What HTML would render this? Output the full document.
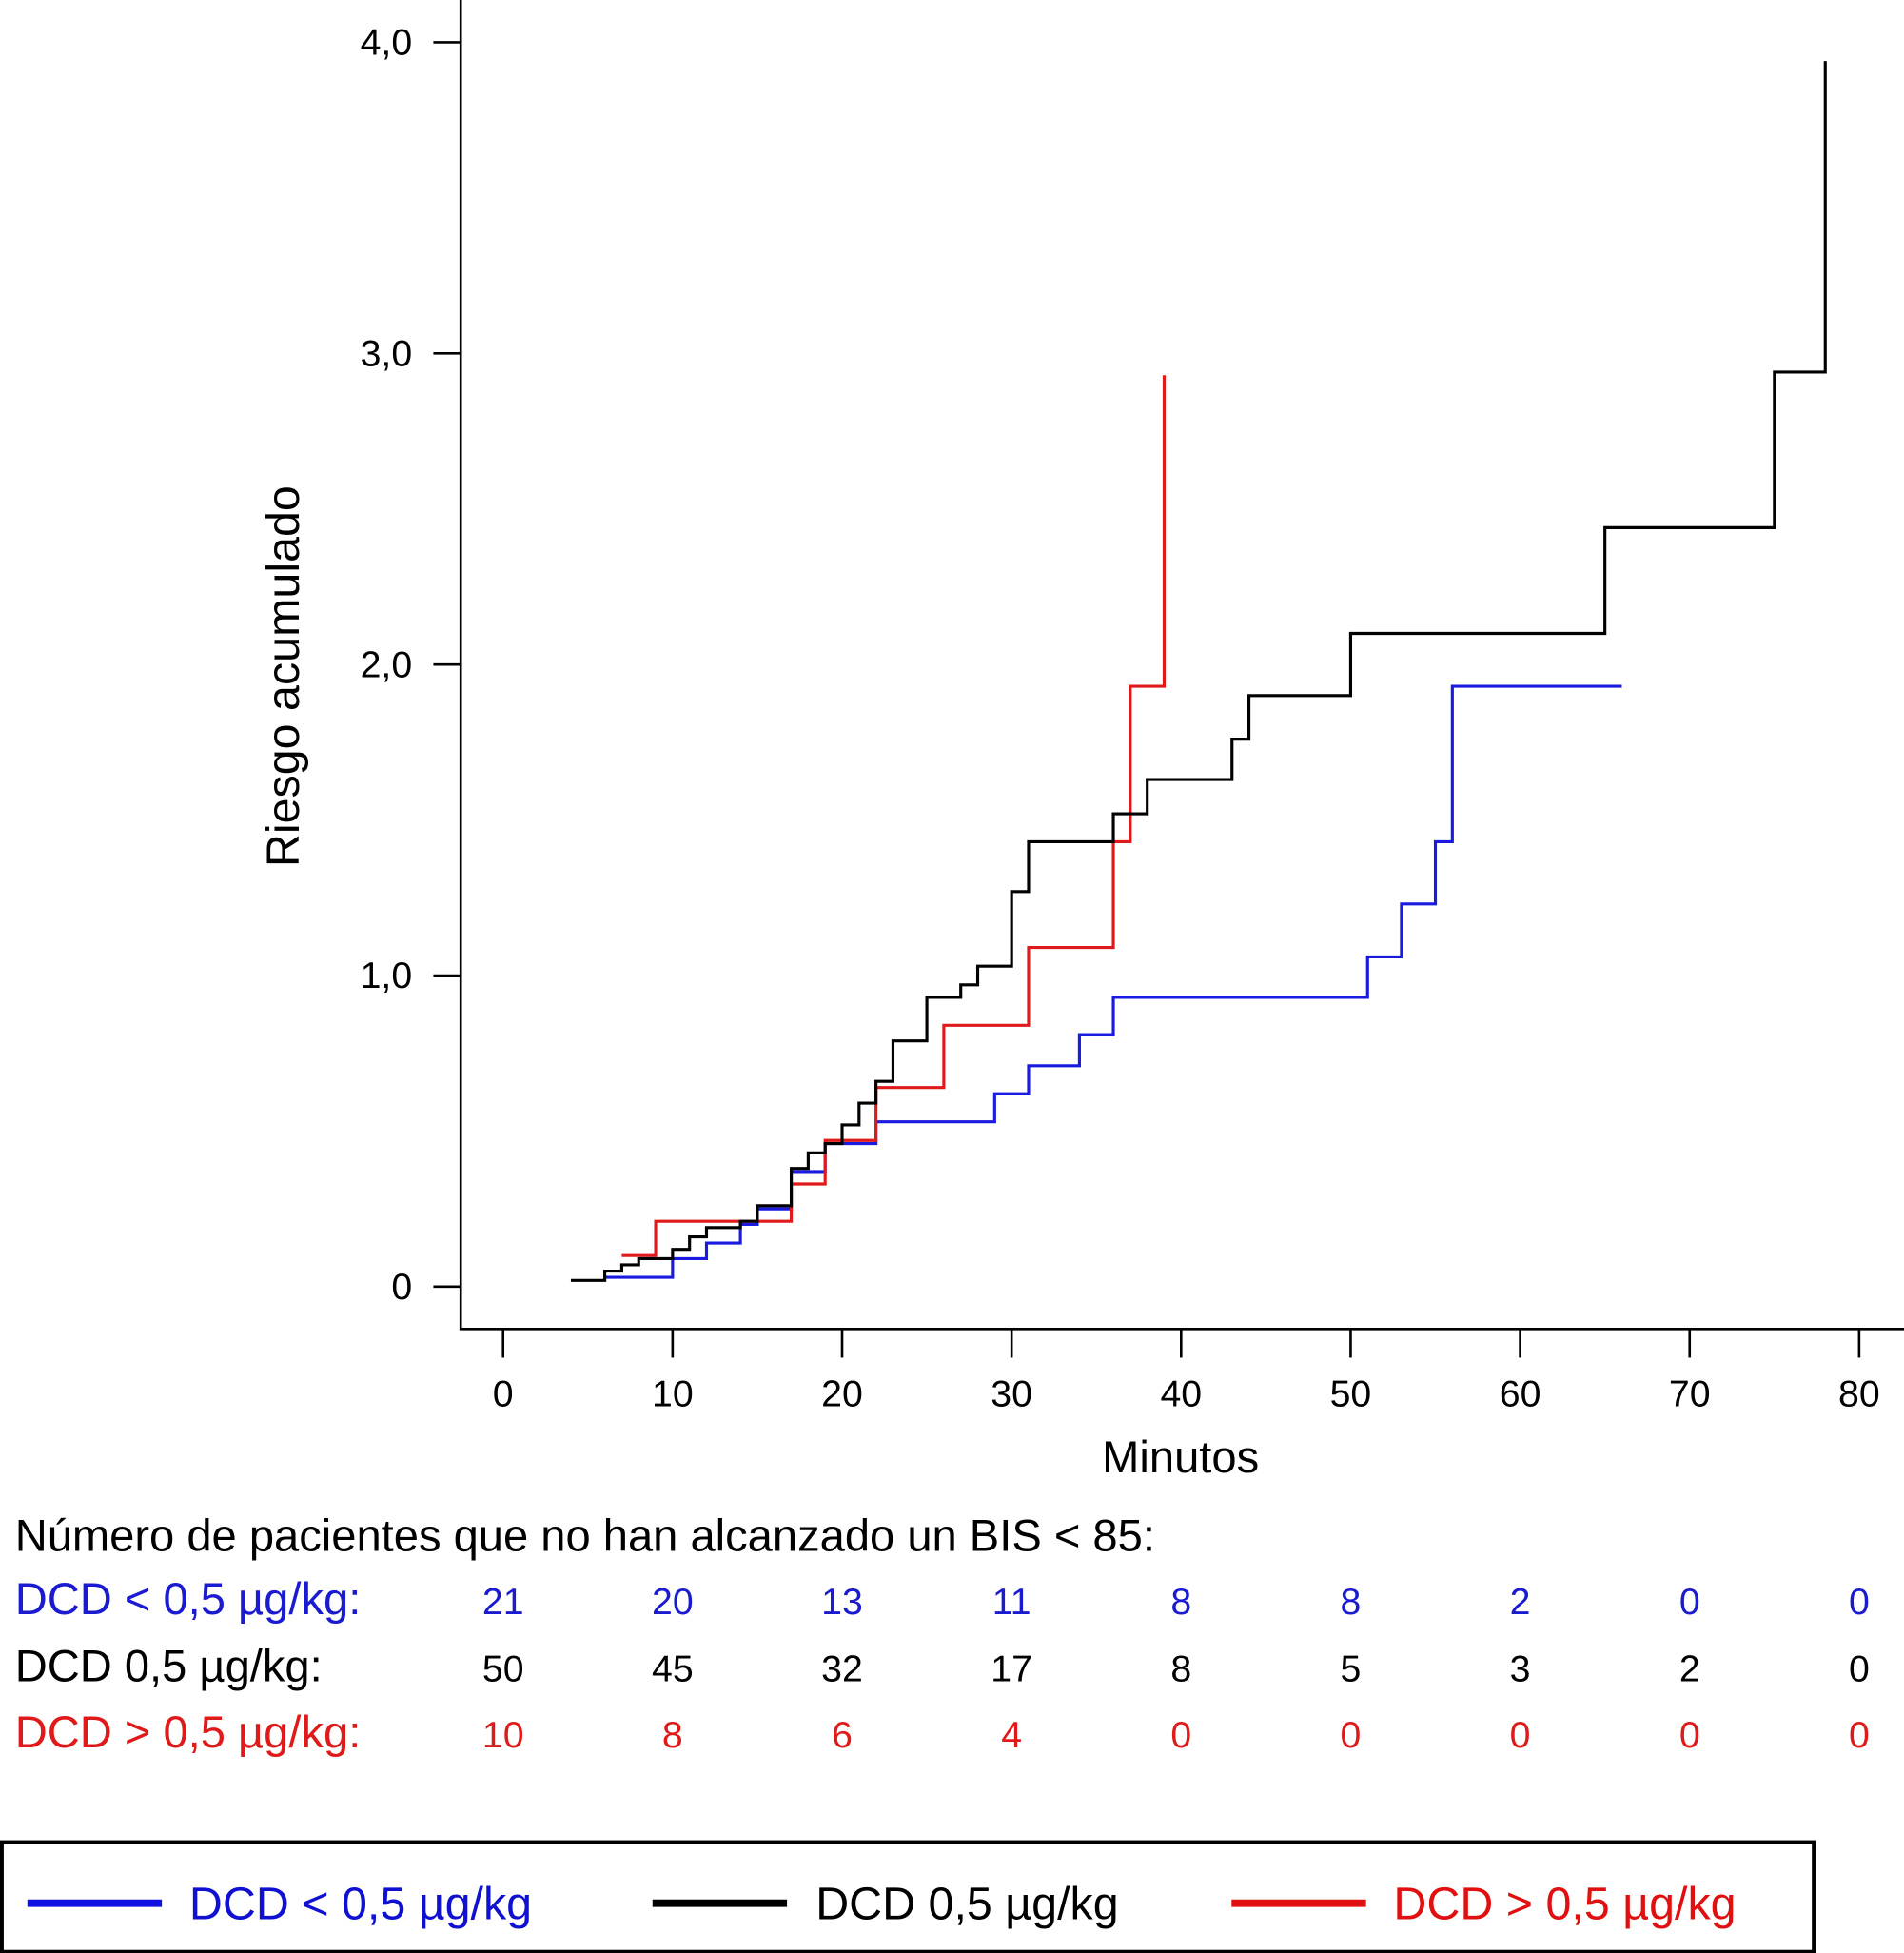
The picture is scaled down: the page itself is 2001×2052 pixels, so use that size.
<!DOCTYPE html>
<html><head><meta charset="utf-8"><style>
html,body{margin:0;padding:0;background:#fff}
svg{display:block}
text{font-family:"Liberation Sans",Arial,sans-serif}
</style></head><body>
<svg id="chart" width="2001" height="2052" viewBox="0 0 1529 1568" preserveAspectRatio="none" xmlns="http://www.w3.org/2000/svg">
<g id="axes"></g>
<g id="series"></g>
<g id="table"></g>
<g id="legend">
<rect x="1.5" y="1479" width="1455" height="88" fill="none" stroke="#000" stroke-width="3"/>
<line x1="22" y1="1528" x2="130" y2="1528" stroke="#1010e0" stroke-width="6"/>
<text x="152" y="1541" font-size="37" fill="#1010d0">DCD &lt; 0,5 µg/kg</text>
<line x1="524" y1="1528" x2="632" y2="1528" stroke="#000" stroke-width="6"/>
<text x="655" y="1541" font-size="37" fill="#000">DCD 0,5 µg/kg</text>
<line x1="989" y1="1528" x2="1097" y2="1528" stroke="#e01010" stroke-width="6"/>
<text x="1119" y="1541" font-size="37" fill="#e01010">DCD &gt; 0,5 µg/kg</text>
</g>
</svg>
<script>
const xTicks = [0,10,20,30,40,50,60,70,80];
const yTicks = [0,1,2,3,4];
const yTickLabels = ["0","1,0","2,0","3,0","4,0"];
const blueT = [6,10,12,14,15,17,19,22,29,31,34,36,51,53,55,56,66];
const blueV = [0.03,0.09,0.14,0.2,0.25,0.37,0.46,0.53,0.62,0.71,0.81,0.93,1.06,1.23,1.43,1.93,1.93];
const blackT = [4,6,7,8,10,11,12,14,15,17,18,19,20,21,22,23,25,27,28,30,31,36,38,43,44,50,65,75,78];
const blackV = [0.02,0.05,0.07,0.09,0.12,0.16,0.19,0.21,0.26,0.38,0.43,0.46,0.52,0.59,0.66,0.79,0.93,0.97,1.03,1.27,1.43,1.52,1.63,1.76,1.90,2.10,2.44,2.94,3.94];
const redT = [7,9,15,17,19,22,26,31,36,37,39];
const redV = [0.1,0.21,0.21,0.33,0.47,0.64,0.84,1.09,1.43,1.93,2.93];
const rowLabels = ["DCD < 0,5 µg/kg:","DCD 0,5 µg/kg:","DCD > 0,5 µg/kg:"];
const rowLow = [21,20,13,11,8,8,2,0,0];
const rowMid = [50,45,32,17,8,5,3,2,0];
const rowHigh = [10,8,6,4,0,0,0,0,0];

const NS="http://www.w3.org/2000/svg";
const X = t => 404 + t*(1493-404)/80;
const Y = v => 1033 - v*(1033-34)/4;
function mk(tag, attrs, parent){const e=document.createElementNS(NS,tag);for(const k in attrs)e.setAttribute(k,attrs[k]);parent.appendChild(e);return e;}
const axes=document.getElementById('axes');
let l=mk('line',{x1:370,y1:0,x2:370,y2:1067,stroke:'#000','stroke-width':2},axes);


l=mk('line',{x1:369,y1:1067,x2:1529,y2:1067,stroke:'#000','stroke-width':2},axes);


yTicks.forEach((v,i)=>{
  const t=mk('line',{x1:348,y1:Y(v),x2:370,y2:Y(v),stroke:'#000','stroke-width':2},axes);
  
  
  const tx=mk('text',{x:331,y:Y(v)+10,'font-size':30,'text-anchor':'end'},axes);
  tx.textContent=yTickLabels[i];
  
  
});
xTicks.forEach(v=>{
  const t=mk('line',{x1:X(v),y1:1067,x2:X(v),y2:1090,stroke:'#000','stroke-width':2},axes);
  
  
  const tx=mk('text',{x:X(v),y:1129,'font-size':30,'text-anchor':'middle'},axes);
  tx.textContent=v;
  
  
});
let tt=mk('text',{x:948,y:1182,'font-size':36,'text-anchor':'middle'},axes);
tt.textContent='Minutos';


tt=mk('text',{x:0,y:0,'font-size':37,'text-anchor':'middle',transform:'translate(240,543) rotate(-90)'},axes);
tt.textContent='Riesgo acumulado';



const ser=document.getElementById('series');
function step(T,V,color,name){
  let d='M'+X(T[0])+','+Y(V[0]);
  for(let i=1;i<T.length;i++){d+=' H'+X(T[i])+' V'+Y(V[i]);}
  const p=mk('path',{d:d,fill:'none',stroke:color,'stroke-width':2.4},ser);
  
  
}
step(blueT,blueV,'#1a1ae0','series-low');
step(redT,redV,'#e01a1a','series-high');
step(blackT,blackV,'#000','series-mid');

const tab=document.getElementById('table');
tt=mk('text',{x:12,y:1245,'font-size':36},tab);
tt.textContent='Número de pacientes que no han alcanzado un BIS < 85:';


const rows=[rowLow,rowMid,rowHigh], cols=['#1a1ad0','#000','#e01a1a'], ys=[1296,1350,1403];
rows.forEach((r,ri)=>{
  const lb=mk('text',{x:12,y:ys[ri],'font-size':36,fill:cols[ri]},tab);
  lb.textContent=rowLabels[ri];
  
  
  r.forEach((n,i)=>{
    const c=mk('text',{x:X(xTicks[i]),y:ys[ri],'font-size':30,'text-anchor':'middle',fill:cols[ri]},tab);
    c.textContent=n;
    
    
  });
});
</script>
</body></html>
